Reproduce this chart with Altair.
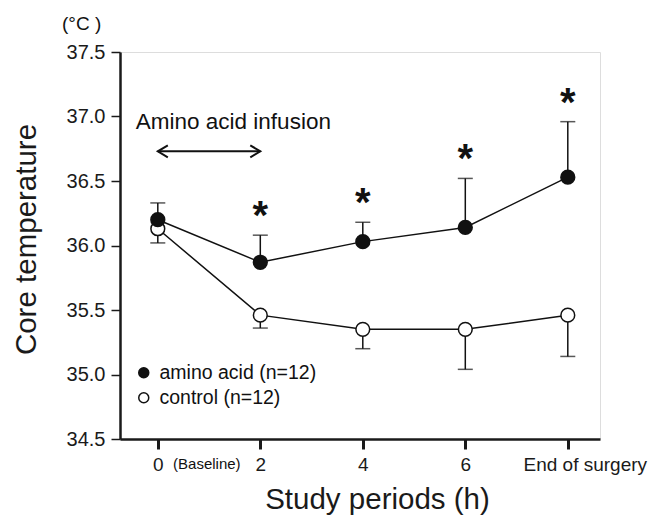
import altair as alt
import pandas as pd

# ---- data ----
categories = ["0", "2", "4", "6", "End of surgery"]
amino_mean = [36.20, 35.87, 36.03, 36.14, 36.53]
amino_upper = [36.33, 36.08, 36.18, 36.52, 36.96]
control_mean = [36.13, 35.46, 35.35, 35.35, 35.46]
control_lower = [36.02, 35.36, 35.20, 35.04, 35.14]
significant = [False, True, True, True, True]
series_names = ["amino acid (n=12)", "control (n=12)"]
y_ticks = [34.5, 35.0, 35.5, 36.0, 36.5, 37.0, 37.5]
arrow_level = 36.73
arrow_span = ["0", "2"]
infusion_label = "Amino acid infusion"

FONT = "Liberation Sans"

rows = []
for i, c in enumerate(categories):
    rows.append({"cat": c, "series": series_names[1], "mean": control_mean[i],
                 "cap": control_lower[i], "ord": 0, "sig": False})
for i, c in enumerate(categories):
    rows.append({"cat": c, "series": series_names[0], "mean": amino_mean[i],
                 "cap": amino_upper[i], "ord": 1, "sig": significant[i]})
df = pd.DataFrame(rows)

xscale = alt.Scale(type="point", domain=categories, padding=0.3415, align=0.54)
yscale = alt.Scale(domain=[34.5, 37.5], nice=False, zero=False)

X = alt.X("cat:N", scale=xscale, sort=categories,
          axis=alt.Axis(title="Study periods (h)", labelFontSize=19, labelAngle=0,
                        labelColor="#1a1a1a", labelPadding=6, tickSize=10, tickWidth=3,
                        labelOffset={"condition": {"test": "datum.value == 'End of surgery'",
                                                   "value": 17}, "value": 0},
                        tickColor="#1a1a1a", domainColor="#1a1a1a", domainWidth=2.5,
                        titleFontSize=29.5, titleFontWeight="normal", titleColor="#1a1a1a",
                        titleX=257, titleY=69, titleAlign="center", titleBaseline="alphabetic",
                        grid=False, labelFont=FONT, titleFont=FONT))
Y = alt.Y("mean:Q", scale=yscale,
          axis=alt.Axis(title="Core temperature", values=y_ticks, format=".1f",
                        labelFontSize=20, labelColor="#1a1a1a", labelPadding=6,
                        tickSize=9, tickWidth=1.5, tickColor="#1a1a1a",
                        domainColor="#1a1a1a", domainWidth=2.5, grid=False,
                        titleFontSize=29.5, titleFontWeight="normal", titleColor="#1a1a1a",
                        titleAngle=270, titleX=-85, titleY=187, titleAlign="center",
                        titleBaseline="alphabetic", labelFont=FONT, titleFont=FONT))

base = alt.Chart(df)

err_rule = base.mark_rule(color="#111", strokeWidth=1.5).encode(
    x=X, y=Y, y2="cap:Q")
err_cap = base.mark_tick(orient="horizontal", size=15, thickness=1.5, color="#111").encode(
    x=X, y=alt.Y("cap:Q", scale=yscale))
lines = base.mark_line(color="#111", strokeWidth=1.5).encode(
    x=X, y=Y, detail="series:N")
points = base.mark_point(filled=True, shape="circle", size=190, stroke="#111",
                         strokeWidth=1.5, opacity=1).encode(
    x=X, y=Y,
    fill=alt.Fill("series:N", scale=alt.Scale(domain=series_names, range=["#111111", "#ffffff"]),
                  legend=alt.Legend(title=None, orient="none", legendX=14, legendY=311,
                                    padding=0, symbolType="circle", symbolSize=100,
                                    symbolStrokeColor="#111", symbolStrokeWidth=1.5,
                                    labelFontSize=19.5, labelColor="#111", labelFont=FONT,
                                    labelOffset=6, rowPadding=4)),
    order="ord:Q")

stars = base.transform_filter("datum.sig").mark_text(
    text="*", fontSize=40, fontWeight="bold", font=FONT, color="#111",
    baseline="alphabetic", dy=-6).encode(
    x=X, y=alt.Y("cap:Q", scale=yscale))

arrow_df = pd.DataFrame({"x1": [arrow_span[0]], "x2": [arrow_span[1]], "y": [arrow_level]})
arrow_line = alt.Chart(arrow_df).mark_rule(color="#111", strokeWidth=2).encode(
    x=alt.X("x1:N", scale=xscale), x2="x2:N", y=alt.Y("y:Q", scale=yscale))
head_df = pd.DataFrame({"x": arrow_span, "y": [arrow_level, arrow_level],
                        "side": ["left", "right"]})
head_left = alt.Chart(head_df).transform_filter("datum.side == 'left'").mark_point(
    shape="M1.67,-1L0,0L1.67,1", size=144, filled=False, stroke="#111", strokeWidth=2,
    opacity=1).encode(x=alt.X("x:N", scale=xscale), y=alt.Y("y:Q", scale=yscale))
head_right = alt.Chart(head_df).transform_filter("datum.side == 'right'").mark_point(
    shape="M-1.67,-1L0,0L-1.67,1", size=144, filled=False, stroke="#111", strokeWidth=2,
    opacity=1).encode(x=alt.X("x:N", scale=xscale), y=alt.Y("y:Q", scale=yscale))

label_df = pd.DataFrame({"x": [categories[0]], "y": [37.0], "t": [infusion_label]})
infusion = alt.Chart(label_df).mark_text(
    align="left", baseline="middle", fontSize=22.5, font=FONT, color="#111", dx=-22, dy=5).encode(
    x=alt.X("x:N", scale=xscale), y=alt.Y("y:Q", scale=yscale), text="t:N")

base_df = pd.DataFrame({"x": [categories[0]], "y": [34.5], "t": ["(Baseline)"]})
baseline_lbl = alt.Chart(base_df).mark_text(
    align="center", baseline="middle", fontSize=15, font=FONT, color="#111", dx=49, dy=25).encode(
    x=alt.X("x:N", scale=xscale), y=alt.Y("y:Q", scale=yscale), text="t:N")

chart = alt.layer(
    err_rule, err_cap, lines, points, stars, arrow_line, head_left, head_right,
    infusion, baseline_lbl
).properties(
    width=480, height=387,
    padding={"left": 120, "top": 52, "right": 51, "bottom": 77},
    autosize=alt.AutoSizeParams(type="none"),
    title=alt.TitleParams(text="(°C )", anchor="start", frame="group", fontSize=19,
                          fontWeight="normal", font=FONT, color="#111", dx=-58, dy=4,
                          offset=3, baseline="middle"),
).configure_view(stroke=None).configure(background="white")

chart.save("out.html", embed_options={"renderer": "svg", "actions": False})
